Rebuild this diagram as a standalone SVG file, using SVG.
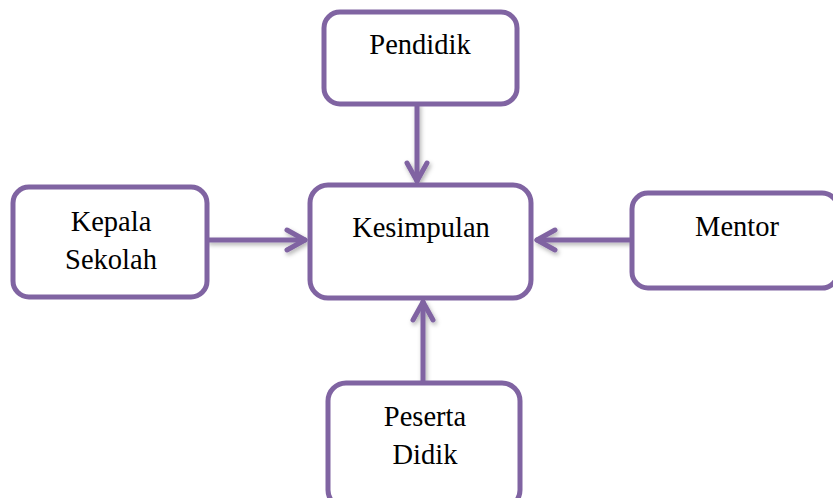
<svg xmlns="http://www.w3.org/2000/svg" width="833" height="498" viewBox="0 0 833 498">
<style>
.box{fill:#fff;stroke:#8064A2;stroke-width:5}
.t{font-family:"Liberation Serif","Times New Roman",serif;font-size:28.5px;fill:#000;text-anchor:middle}
.c{fill:none;stroke:#8064A2;stroke-width:5;stroke-linecap:round;stroke-linejoin:round}
</style>
<defs>
<filter id="sh" x="-20%" y="-20%" width="140%" height="140%">
<feDropShadow dx="1.5" dy="2.5" stdDeviation="2" flood-color="#000" flood-opacity="0.3"/>
</filter>
<marker id="ah" markerUnits="userSpaceOnUse" markerWidth="30" markerHeight="30" viewBox="-22 -15 30 30" refX="0" refY="0" orient="auto">
<path d="M-18,-10 L0,0 L-18,10" fill="none" stroke="#8064A2" stroke-width="5" stroke-linecap="round" stroke-linejoin="round"/>
</marker>
</defs>
<rect width="833" height="498" fill="#fff"/>
<g id="connectors" filter="url(#sh)">
<line class="c" x1="417" y1="105" x2="417" y2="181" marker-end="url(#ah)"/>
<line class="c" x1="209" y1="240" x2="305" y2="240" marker-end="url(#ah)"/>
<line class="c" x1="631" y1="240" x2="537" y2="240" marker-end="url(#ah)"/>
<line class="c" x1="423" y1="381" x2="423" y2="302" marker-end="url(#ah)"/>
</g>
<g id="pendidik">
<rect class="box" x="324" y="12" width="193" height="92" rx="16"/>
<text class="t" x="420" y="54">Pendidik</text>
</g>
<g id="kesimpulan">
<rect class="box" x="310" y="185" width="221" height="113" rx="18"/>
<text class="t" x="421" y="237">Kesimpulan</text>
</g>
<g id="kepala-sekolah">
<rect class="box" x="13" y="187" width="194" height="110" rx="16"/>
<text class="t" x="111" y="231">Kepala</text>
<text class="t" x="111" y="269">Sekolah</text>
</g>
<g id="mentor">
<rect class="box" x="632" y="193" width="206" height="95" rx="16"/>
<text class="t" x="737" y="236">Mentor</text>
</g>
<g id="peserta-didik">
<rect class="box" x="328" y="383" width="192" height="125" rx="18"/>
<text class="t" x="425" y="426">Peserta</text>
<text class="t" x="425" y="464">Didik</text>
</g>
</svg>
